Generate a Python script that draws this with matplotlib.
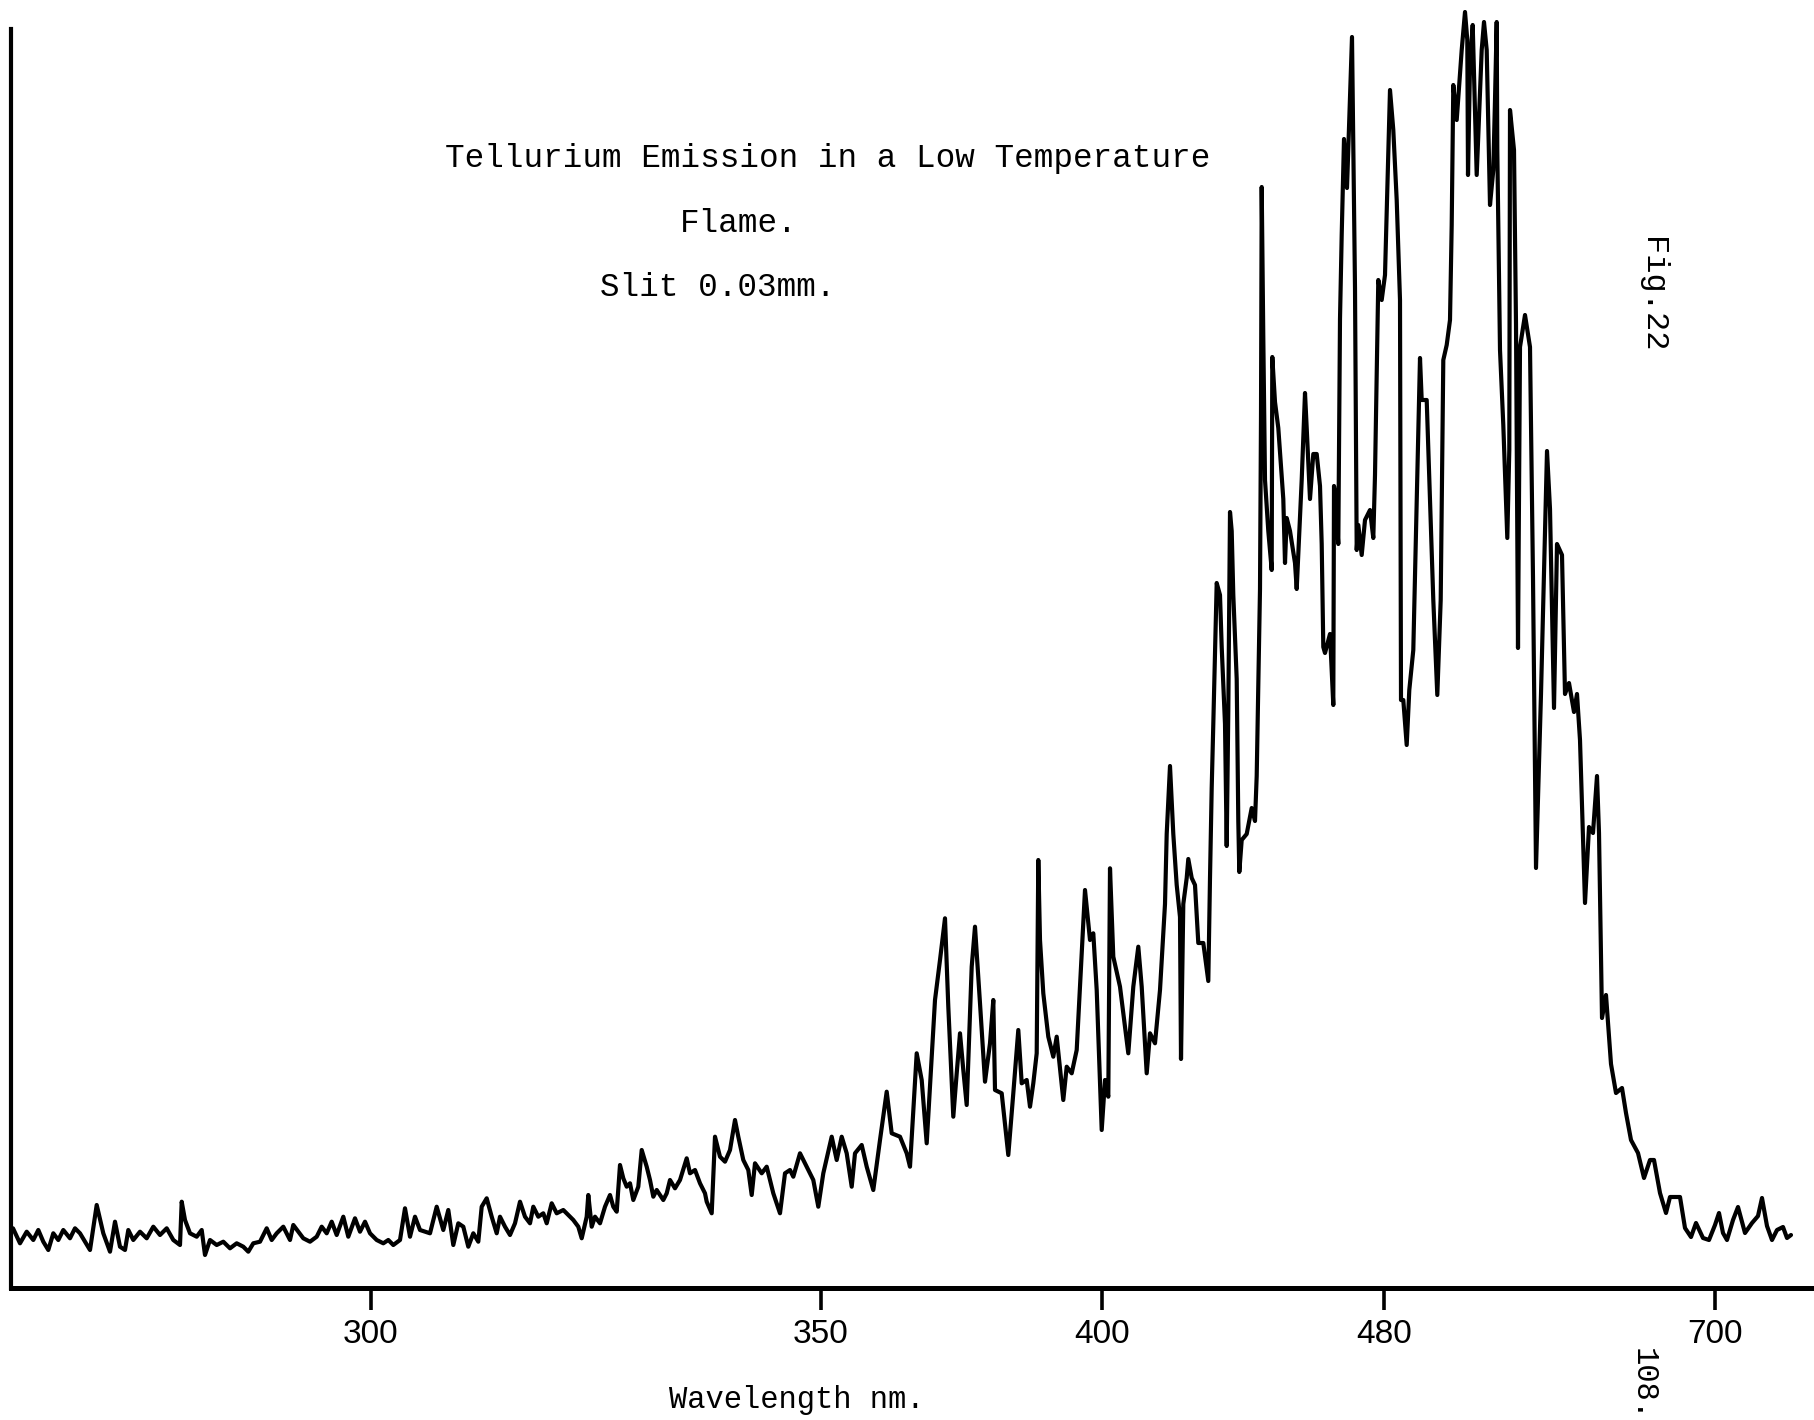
import matplotlib
matplotlib.use("Agg")
import matplotlib.pyplot as plt

# recorder trace: drum position (chart divisions) and pen deflection (divisions)
drum_pos = [
    1.3, 2.0, 2.67, 3.33, 3.83, 4.33, 4.83, 5.33, 5.83, 6.33, 7.0, 7.5, 8.0, 8.5, 9.0,
    9.67, 10.33, 11.0, 11.5, 12.0, 12.5, 12.83, 13.33, 14.0, 14.67, 15.33, 16.0, 16.67,
    17.33, 18.0, 18.17, 18.5, 19.0, 19.67, 20.17, 20.5, 21.0, 21.67, 22.33, 23.0, 23.67,
    24.33, 24.83, 25.33, 26.0, 26.67, 27.17, 27.67, 28.33, 29.0, 29.33, 29.83, 30.33,
    31.0, 31.67, 32.17, 32.67, 33.17, 33.67, 34.33, 34.83, 35.5, 36.0, 36.5, 37.0, 37.67,
    38.33, 38.83, 39.33, 40.0, 40.5, 41.0, 41.5, 42.0,
    43.0, 43.67, 44.33, 44.83, 45.33, 45.83, 46.33, 46.83, 47.33, 47.83, 48.17, 48.67,
    49.17, 49.67, 50.0, 50.5, 51.0, 51.5, 52.0, 52.5, 53.0, 53.33, 53.83, 54.33, 54.67,
    55.17, 55.67, 56.33, 56.83, 57.33, 57.83, 58.17, 58.67, 58.83, 59.17, 59.5, 60.0,
    60.5, 61.0, 61.33, 61.67, 62.0, 62.33, 62.67, 63.0, 63.33, 63.83, 64.17, 64.67, 65.0,
    65.33, 65.67, 66.33, 66.67, 67.0, 67.5, 68.0, 68.67, 69.0, 69.5, 70.0, 70.5, 70.67,
    71.17, 71.5, 72.0, 72.5, 73.0, 73.5, 73.83, 74.33, 74.83, 75.17, 75.5, 76.17, 76.67,
    77.33, 78.0, 78.5, 79.0, 79.33, 80.0, 80.67, 81.33, 81.83,
    82.33, 83.17, 83.67, 84.17, 84.67, 85.17, 85.5, 86.17, 86.67, 87.33, 88.0, 88.67,
    89.17, 90.0, 90.67, 91.0, 91.67, 92.17, 92.67, 93.17, 93.5, 94.0, 94.5, 94.83, 95.33,
    95.67, 96.0, 96.33, 96.67, 97.17, 97.5, 98.0, 98.5, 99.0, 99.33, 99.5, 100.17,
    100.83, 101.33, 101.83, 102.17, 102.67, 103.0, 103.33, 103.67, 103.83, 104.0, 104.33,
    104.83, 105.33, 105.67, 106.33, 106.67, 107.17, 107.67, 108.5, 109.0, 109.33, 109.67,
    110.17, 110.5, 110.83, 111.0, 111.33, 112.0, 112.83, 113.33, 113.83, 114.17, 114.67,
    115.0, 115.5, 116.0, 116.5, 116.67, 117.0, 117.33, 117.67, 118.0, 118.1, 118.33,
    118.67, 118.83, 119.17, 119.5, 119.83,
    120.33, 120.83, 121.0, 121.17, 121.33, 121.67, 122.0, 122.17, 122.5, 122.67, 122.83,
    123.0, 123.17, 123.33, 123.67, 123.83, 123.93, 124.17, 124.67, 125.17, 125.5, 125.67,
    125.83, 126.0, 126.1, 126.17, 126.33, 126.5, 126.83, 127.17, 127.23, 127.5, 127.83,
    128.33, 128.5, 128.67, 129.0, 129.5, 129.67, 130.17, 130.5, 130.67, 131.0, 131.33,
    131.67, 132.0, 132.17, 132.33, 132.5, 133.0, 133.33, 133.4, 133.5, 133.83, 134.0,
    134.17, 134.4, 134.7, 135.2, 135.5, 135.67, 135.83, 136.17, 136.5, 137.0, 137.33,
    137.5, 137.83, 138.17, 138.5, 139.0, 139.33, 139.67, 140.0, 140.05, 140.1, 140.33,
    140.67, 140.93, 141.33, 141.67, 142.0, 142.17, 142.67, 143.0, 143.33, 143.73, 144.07,
    144.33, 144.67, 145.0, 145.17, 145.33, 145.67, 146.17, 146.5, 146.73, 146.8, 147.0,
    147.27, 147.4, 147.67, 148.17, 148.4, 148.67, 149.0, 149.33, 149.5, 149.67, 149.73,
    150.0, 150.33, 150.73, 150.93, 151.0, 151.4, 151.6, 151.8, 152.0, 152.5, 153.0, 153.3,
    153.6, 154.1, 154.7, 155.0, 155.4, 155.7, 156.2, 156.5, 156.9, 157.4, 157.7, 158.0,
    158.5, 158.9, 159.3, 159.7, 159.9,
    160.2, 160.6, 161.1, 161.6, 162.2, 162.6, 163.1, 163.8, 164.4, 165.0, 165.4, 166.0,
    166.6, 167.0, 168.0, 168.5, 169.1, 169.6, 170.3, 170.9, 171.5, 171.9, 172.3, 172.7,
    173.3, 173.8, 174.5, 175.2, 175.8, 176.2, 176.7, 177.2, 177.7, 178.3, 178.7, 179.1,
]
signal = [
    5.97, 4.47, 5.63, 4.8, 5.8, 4.63, 3.8, 5.47, 4.8, 5.8, 4.97, 5.97, 5.47, 4.63, 3.8,
    8.3, 5.47, 3.63, 6.63, 4.13, 3.8, 5.8, 4.8, 5.63, 4.97, 6.13, 5.3, 5.97,
    4.8, 4.3, 8.63, 6.8, 5.47, 5.13, 5.8, 3.3, 4.8, 4.3, 4.63, 3.97, 4.47,
    4.13, 3.63, 4.47, 4.63, 5.97, 4.8, 5.47, 6.13, 4.8, 6.3, 5.63, 4.97,
    4.63, 5.13, 6.13, 5.47, 6.63, 5.3, 7.13, 5.13, 6.97, 5.63, 6.63, 5.47, 4.8,
    4.47, 4.8, 4.3, 4.8, 7.97, 5.13, 7.13, 5.8,
    5.47, 8.13, 5.8, 7.8, 4.3, 6.47, 6.13, 4.13, 5.47, 4.63, 8.13, 8.97,
    7.13, 5.47, 7.13, 6.13, 5.3, 6.47, 8.63, 7.13, 6.47, 8.13, 7.13, 7.47, 6.47,
    8.47, 7.47, 7.8, 7.3, 6.8, 6.13, 4.97, 7.13, 9.3, 6.13, 7.13, 6.47,
    8.13, 9.3, 8.13, 7.63, 12.3, 10.97, 10.13, 10.47, 8.8, 10.13, 13.8, 12.13, 10.8,
    9.13, 9.8, 8.8, 9.47, 10.8, 9.97, 10.8, 12.97, 11.47, 11.8, 10.47, 9.47, 8.63,
    7.47, 15.13, 13.13, 12.63, 13.8, 16.8, 15.13, 12.8, 11.8, 9.3, 12.47, 11.47, 12.13,
    9.47, 7.47, 11.47, 11.8, 11.13, 13.47, 12.13, 10.8, 8.13,
    11.47, 15.13, 12.8, 15.13, 13.47, 10.13, 13.47, 14.3, 12.13, 9.8, 14.8, 19.63,
    15.47, 15.13, 13.47, 12.13, 23.47, 20.8, 14.47, 23.13, 28.8, 32.8, 36.97, 28.13, 17.13,
    21.47, 25.47, 21.8, 18.3, 32.13, 36.13, 28.47, 20.63, 24.47, 28.8, 19.8, 19.47,
    13.3, 19.47, 25.8, 20.47, 20.8, 18.13, 20.47, 23.47, 42.8, 34.8, 29.47,
    25.13, 23.13, 25.13, 18.8, 22.13, 21.47, 23.8, 39.8, 34.8, 35.47, 29.8,
    15.8, 20.8, 19.13, 41.97, 33.13, 30.13, 23.47, 30.13, 34.13, 30.13, 21.47,
    25.47, 24.47, 29.8, 38.4, 45.4, 52.2, 45.4, 40.3, 37.1, 22.9, 38.4,
    41.0, 42.9, 41.0, 40.3, 34.5,
    34.5, 30.7, 41.0, 50.0, 56.4, 70.5, 69.3, 64.1, 56.4, 44.2, 57.7,
    77.6, 75.7, 69.3, 60.9, 46.7, 41.6, 44.8, 45.4, 48.0, 46.7, 51.2,
    60.2, 69.9, 87.3, 110.1, 95.0, 80.8, 75.7, 71.8, 93.1, 88.6, 86.0,
    78.9, 72.5, 77.0, 75.7, 72.5, 69.9, 80.8, 89.5, 86.0, 78.9, 83.4,
    83.4, 80.2, 74.4, 64.1, 63.5, 65.4, 58.3, 80.2, 79.6, 74.4, 96.9,
    105.3, 114.9, 110.0, 125.1, 100.0, 73.8, 76.3, 73.3, 76.8, 77.8, 75.0,
    81.3, 100.8, 98.8, 101.3, 119.8, 115.8, 108.8, 98.8, 78.8, 58.8, 58.8,
    54.3, 59.8, 63.8, 78.8, 93.0, 88.8, 88.8, 78.8, 68.8, 59.3, 68.8,
    92.8, 94.3, 96.8, 106.3, 120.3, 116.8, 123.8, 127.6, 124.8, 111.3, 122.3,
    126.3, 121.3, 111.3, 123.8, 126.6, 123.8, 108.3, 111.8, 118.8, 126.6, 113.8,
    93.8, 86.3, 75.0, 83.8, 117.8, 113.8, 96.4, 64.0, 94.1, 97.3, 94.1, 71.0,
    42.0, 59.4, 83.7, 77.9, 58.0, 74.4, 73.3, 59.4, 60.5, 57.6, 59.4, 54.8,
    38.5, 46.1, 45.5, 51.2, 45.5,
    27.0, 29.3, 22.4, 19.5, 20.0, 17.5, 14.8, 13.5, 11.0, 12.8, 12.8, 9.5,
    7.5, 9.1, 9.1, 6.0, 5.1, 6.5, 5.0, 4.8, 6.3, 7.5, 5.5, 4.8,
    6.8, 8.1, 5.5, 6.5, 7.2, 9.0, 6.2, 4.8, 5.8, 6.1, 5.0, 5.3,
]

# wavelength calibration marks on the drum
tick_pos = [37.1, 82.1, 110.2, 138.4, 171.5]
tick_labels = ["300", "350", "400", "480", "700"]

W, H = 1814, 1420
fig = plt.figure(figsize=(W / 100, H / 100), dpi=100)
ax = fig.add_axes([11 / W, 1 - 1288 / H, 1 - 11 / W, 1288 / H])

ax.plot(drum_pos, signal, color="black", lw=3.0,
        solid_joinstyle="round", solid_capstyle="round")

ax.set_xlim(1.1, 181.4)
ax.set_ylim(0, 128.8)

for side in ("top", "right"):
    ax.spines[side].set_visible(False)
ax.spines["bottom"].set_linewidth(3.6)
ax.spines["left"].set_linewidth(3.0)
ax.spines["left"].set_bounds(0, 125.9)

ax.set_yticks([])
ax.set_xticks(tick_pos, tick_labels)
ax.tick_params(axis="x", direction="out", length=16, width=2.6, pad=6,
               labelsize=24, colors="black")
for lab in ax.get_xticklabels():
    lab.set_fontfamily("Liberation Sans")

mono = "Liberation Mono"
fig.text(445 / W, 1 - 158 / H, "Tellurium Emission in a Low Temperature",
         family=mono, fontsize=23.5, ha="left", va="center")
fig.text(680 / W, 1 - 223 / H, "Flame.", family=mono, fontsize=23.5,
         ha="left", va="center")
fig.text(600 / W, 1 - 288 / H, "Slit 0.03mm.", family=mono, fontsize=23.5,
         ha="left", va="center")
fig.text(669 / W, 1 - 1400 / H, "Wavelength nm.", family=mono, fontsize=22,
         ha="left", va="center")
fig.text(1652 / W, 1 - 237 / H, "Fig.22", family=mono, fontsize=23,
         rotation=-90, ha="center", va="top")
fig.text(1643 / W, 1 - 1348 / H, "108.", family=mono, fontsize=22,
         rotation=-90, ha="center", va="top")

fig.savefig("out.png", dpi=100)
